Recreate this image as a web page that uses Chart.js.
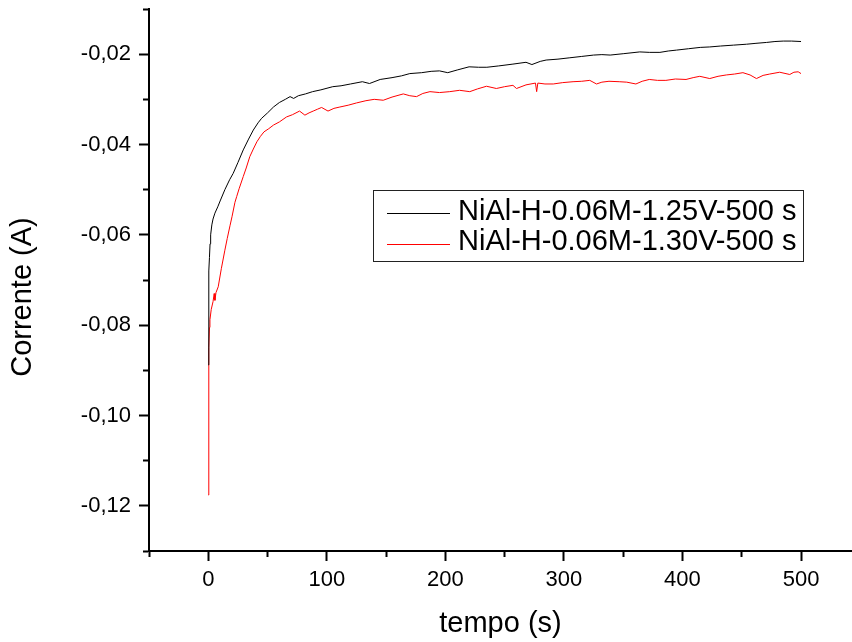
<!DOCTYPE html>
<html><head><meta charset="utf-8">
<script src="https://cdn.jsdelivr.net/npm/chart.js@4/dist/chart.umd.min.js"></script>
<style>html,body{margin:0;padding:0;background:#fff;}#wrap{width:852px;height:642px;}</style>
</head><body><div id="wrap"><canvas id="c" width="852" height="642"></canvas></div>
<script>
const SERIES_LABELS = ['NiAl-H-0.06M-1.25V-500 s', 'NiAl-H-0.06M-1.30V-500 s'];
const X_TITLE = 'tempo (s)';
const Y_TITLE = 'Corrente (A)';
const X_TICK_LABELS = [0, 100, 200, 300, 400, 500];
const Y_TICK_LABELS = [-0.12, -0.10, -0.08, -0.06, -0.04, -0.02];

// 1.25 V series (black)
const T_125 = [0, 0.3, 0.6, 1, 1.5, 2, 3, 4, 5.6, 8, 10, 14, 18, 21, 25, 29.5, 34, 38, 42, 45, 50, 55, 60, 65, 69, 72, 76, 82, 88, 95, 105, 112, 120, 130, 136, 145, 155, 163, 170, 180, 188, 195, 202, 210, 220, 228, 235, 245, 257, 268, 273, 280, 285, 295, 305, 315, 325, 332, 339, 350, 364, 372, 381, 388, 395, 405, 415, 423, 432, 443, 454, 462, 471, 478, 485, 492, 500];
const I_125 = [-0.0888, -0.075, -0.068, -0.065, -0.062, -0.060, -0.0578, -0.0565, -0.0552, -0.0538, -0.0525, -0.0500, -0.0478, -0.0464, -0.0440, -0.0412, -0.0388, -0.0368, -0.0352, -0.0342, -0.0330, -0.0317, -0.0307, -0.0300, -0.0294, -0.0298, -0.0292, -0.0288, -0.0283, -0.0279, -0.0272, -0.0270, -0.0266, -0.0261, -0.0265, -0.0256, -0.0252, -0.0248, -0.0243, -0.0241, -0.0238, -0.0237, -0.0241, -0.0235, -0.0228, -0.0229, -0.0229, -0.0226, -0.0222, -0.0218, -0.0223, -0.0216, -0.0213, -0.0211, -0.0208, -0.0205, -0.0202, -0.0201, -0.0202, -0.0199, -0.0195, -0.0196, -0.0196, -0.0193, -0.0191, -0.0188, -0.0185, -0.0184, -0.0182, -0.0180, -0.0178, -0.0176, -0.0174, -0.0172, -0.0171, -0.0171, -0.0172];

// 1.30 V series (red)
const T_130 = [0, 0.3, 0.6, 1, 1.4, 2.5, 4, 5, 5.6, 6.5, 8.4, 11, 14, 16, 18.3, 20, 22.5, 24, 26, 29.5, 32, 35, 38, 41, 44, 47, 51, 55, 60, 66, 71, 77, 81.5, 85, 88.5, 92, 95.6, 101, 106, 111, 118, 125, 133, 140, 147.6, 155, 164.5, 170, 175.7, 181, 187, 195, 203.7, 212, 220.6, 227, 234.7, 243, 250, 257, 260, 268, 276, 277, 278, 284, 291, 299, 307.7, 315, 321.8, 327.5, 332, 338, 346.6, 353, 360.7, 366, 372, 379, 386, 394, 403, 409, 414.6, 423, 430, 437, 444, 451, 457, 462.4, 468, 473.6, 482, 490.5, 494, 497.6, 500];
const I_130 = [-0.1176, -0.100, -0.085, -0.0805, -0.0788, -0.0765, -0.0748, -0.0730, -0.0745, -0.0728, -0.0715, -0.0675, -0.0634, -0.0608, -0.0580, -0.0560, -0.0528, -0.0515, -0.0498, -0.0471, -0.0452, -0.0427, -0.0410, -0.0394, -0.0382, -0.0372, -0.0365, -0.0357, -0.0350, -0.0339, -0.0334, -0.0326, -0.0335, -0.0330, -0.0326, -0.0322, -0.0318, -0.0326, -0.0320, -0.0317, -0.0313, -0.0308, -0.0303, -0.0300, -0.0302, -0.0295, -0.0288, -0.0292, -0.0294, -0.0287, -0.0283, -0.0285, -0.0283, -0.0280, -0.0283, -0.0277, -0.0271, -0.0276, -0.0272, -0.0269, -0.0276, -0.0268, -0.0264, -0.0283, -0.0264, -0.0266, -0.0266, -0.0263, -0.0261, -0.0260, -0.0258, -0.0266, -0.0262, -0.0260, -0.0261, -0.0262, -0.0266, -0.0260, -0.0256, -0.0258, -0.0258, -0.0255, -0.0256, -0.0252, -0.0249, -0.0254, -0.0249, -0.0246, -0.0244, -0.0241, -0.0246, -0.0254, -0.0247, -0.0244, -0.0240, -0.0245, -0.0240, -0.0239, -0.0243];

const FONT = '"Liberation Sans", Arial, Helvetica, sans-serif';
Chart.defaults.font.family = FONT;
Chart.defaults.color = '#000';

const toPts = (t, v) => t.map((x, i) => ({x: x, y: v[i]}));
const near = (a, b) => Math.abs(a - b) < 1e-7;
const isMajorX = v => X_TICK_LABELS.some(m => near(m, v));
const isMajorY = v => Y_TICK_LABELS.some(m => near(m, v));

// tick values every half major step (minor + major), within the axis range
const stepTicks = (lo, hi, step, dec) => {
  const out = [];
  for (let k = Math.ceil(lo / step - 1e-9); k * step <= hi + 1e-9; k++) out.push({value: +(k * step).toFixed(dec)});
  return out;
};

const boxLegend = {
  id: 'boxLegend',
  afterDraw(chart) {
    const ctx = chart.ctx;
    ctx.save();
    ctx.fillStyle = '#fff';
    ctx.fillRect(373.5, 190.5, 430, 71);
    ctx.strokeStyle = '#222';
    ctx.lineWidth = 1;
    ctx.strokeRect(373.5, 190.5, 430, 71);
    chart.data.datasets.forEach((ds, i) => {
      const ly = 213 + i * 31;
      ctx.strokeStyle = ds.borderColor;
      ctx.lineWidth = 1;
      ctx.beginPath();
      ctx.moveTo(387, ly + 0.5);
      ctx.lineTo(450, ly + 0.5);
      ctx.stroke();
      ctx.fillStyle = '#000';
      ctx.font = '29px ' + FONT;
      ctx.textAlign = 'left';
      ctx.textBaseline = 'alphabetic';
      ctx.fillText(ds.label, 458, 219.5 + i * 30.5);
    });
    // y axis title
    ctx.translate(23, 297);
    ctx.rotate(-Math.PI / 2);
    ctx.font = '29px ' + FONT;
    ctx.fillStyle = '#000';
    ctx.textAlign = 'center';
    ctx.textBaseline = 'middle';
    ctx.fillText(Y_TITLE, 0, 0);
    ctx.restore();
  }
};

new Chart(document.getElementById('c'), {
  type: 'line',
  data: {
    datasets: [
      {label: SERIES_LABELS[0], data: toPts(T_125, I_125), borderColor: '#000000', borderWidth: 1, pointRadius: 0, tension: 0},
      {label: SERIES_LABELS[1], data: toPts(T_130, I_130), borderColor: '#ff0000', borderWidth: 1, pointRadius: 0, tension: 0}
    ]
  },
  options: {
    responsive: false,
    animation: false,
    devicePixelRatio: 1,
    layout: {padding: {top: 9, left: 0, right: 0, bottom: 0}},
    plugins: {legend: {display: false}, tooltip: {enabled: false}},
    scales: {
      x: {
        type: 'linear', min: -50, max: 543,
        afterBuildTicks: s => { s.ticks = stepTicks(s.min, s.max, 50, 0); },
        afterFit: s => { s.height = 91; s.paddingLeft = 0; s.paddingRight = 0; },
        ticks: {autoSkip: false, maxRotation: 0, padding: 6, font: {size: 22}, color: '#000',
          callback: v => isMajorX(v) ? String(v) : ''},
        grid: {drawOnChartArea: false, drawTicks: true, tickLength: 10, tickWidth: 2, tickColor: '#000',
          tickBorderDash: c => (c.tick && isMajorX(c.tick.value)) ? [] : [5, 100]},
        border: {display: true, color: '#000', width: 2},
        title: {display: true, text: X_TITLE, font: {size: 29}, color: '#000', padding: {top: 0, bottom: 1}}
      },
      y: {
        type: 'linear', min: -0.13, max: -0.01,
        afterBuildTicks: s => { s.ticks = stepTicks(s.min, s.max, 0.01, 2); },
        afterFit: s => { s.width = 149; s.paddingTop = 0; s.paddingBottom = 0; },
        ticks: {autoSkip: false, padding: 8, font: {size: 22}, color: '#000',
          callback: v => isMajorY(v) ? v.toFixed(2).replace('.', ',') : ''},
        grid: {drawOnChartArea: false, drawTicks: true, tickLength: 10, tickWidth: 2, tickColor: '#000',
          tickBorderDash: c => (c.tick && isMajorY(c.tick.value)) ? [] : [0, 4, 5, 100]},
        border: {display: true, color: '#000', width: 2},
        title: {display: false}
      }
    }
  },
  plugins: [boxLegend]
});
</script>
</body></html>
